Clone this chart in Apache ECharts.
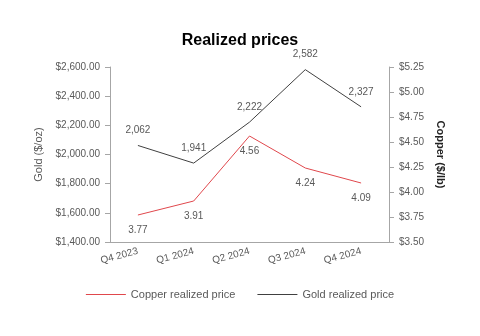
<!DOCTYPE html>
<html><head><meta charset="utf-8">
<script src="https://cdn.jsdelivr.net/npm/echarts@6/dist/echarts.min.js"></script>
<style>html,body{margin:0;padding:0;background:#fff}#c{width:480px;height:336px}</style>
</head><body><div id="c"></div>
<script>
const categories = ['Q4 2023', 'Q1 2024', 'Q2 2024', 'Q3 2024', 'Q4 2024'];
const copperPrices = [3.77, 3.91, 4.56, 4.24, 4.09];
const goldPrices = [2062, 1941, 2222, 2582, 2327];
const goldTicks = {min: 1400, max: 2600, interval: 200};
const copperTicks = {min: 3.5, max: 5.25, interval: 0.25};

const chart = echarts.init(document.getElementById('c'));
const font = 'Liberation Sans, Arial, sans-serif';
const grey = '#595959';
chart.setOption({
  animation: false,
  textStyle: {fontFamily: font},
  title: {text: 'Realized prices', left: 'center', top: 28,
    textStyle: {fontFamily: font, fontSize: 16, fontWeight: 'bold', color: '#000'}},
  grid: {left: 110, right: 91, top: 67, bottom: 94},
  legend: {bottom: 31, left: 'center', icon: 'rect', itemWidth: 40, itemHeight: 1, itemGap: 22,
    textStyle: {fontFamily: font, fontSize: 11, color: grey},
    data: ['Copper realized price', 'Gold realized price']},
  xAxis: {type: 'category', data: categories, boundaryGap: true,
    axisLine: {lineStyle: {color: '#a6a6a6'}},
    axisTick: {alignWithLabel: true, length: 5, lineStyle: {color: '#a6a6a6'}},
    axisLabel: {rotate: 15, color: grey, fontSize: 10, margin: 9, fontFamily: font}},
  yAxis: [
    {type: 'value', min: goldTicks.min, max: goldTicks.max, interval: goldTicks.interval,
      name: 'Gold ($/oz)', nameLocation: 'middle', nameGap: 66, nameRotate: 90,
      nameTextStyle: {color: grey, fontSize: 11, fontFamily: font},
      axisLine: {show: true, lineStyle: {color: '#a6a6a6'}},
      axisTick: {show: true, length: 5, lineStyle: {color: '#a6a6a6'}},
      splitLine: {show: false},
      axisLabel: {color: grey, fontSize: 10, margin: 10, fontFamily: font,
        formatter: v => '$' + v.toLocaleString('en-US', {minimumFractionDigits: 2, maximumFractionDigits: 2})}},
    {type: 'value', min: copperTicks.min, max: copperTicks.max, interval: copperTicks.interval,
      name: 'Copper ($/lb)', nameLocation: 'middle', nameGap: 46, nameRotate: -90,
      nameTextStyle: {color: '#222', fontSize: 11, fontWeight: 'bold', fontFamily: font},
      axisLine: {show: true, lineStyle: {color: '#a6a6a6'}},
      axisTick: {show: true, length: 5, lineStyle: {color: '#a6a6a6'}},
      splitLine: {show: false},
      axisLabel: {color: grey, fontSize: 10, margin: 10, fontFamily: font,
        formatter: v => '$' + v.toFixed(2)}}
  ],
  series: [
    {name: 'Copper realized price', type: 'line', yAxisIndex: 1, data: copperPrices,
      symbol: 'circle', symbolSize: 0, showSymbol: true,
      lineStyle: {color: '#e0474c', width: 1}, itemStyle: {color: '#e0474c'},
      label: {show: true, position: 'bottom', distance: 10, color: grey, fontSize: 10, fontFamily: font,
        formatter: p => p.value.toFixed(2)}},
    {name: 'Gold realized price', type: 'line', yAxisIndex: 0, data: goldPrices,
      symbol: 'circle', symbolSize: 0, showSymbol: true,
      lineStyle: {color: '#404040', width: 1}, itemStyle: {color: '#404040'},
      label: {show: true, position: 'top', distance: 10, color: grey, fontSize: 10, fontFamily: font,
        formatter: p => p.value.toLocaleString('en-US')}}
  ]
});
</script></body></html>
